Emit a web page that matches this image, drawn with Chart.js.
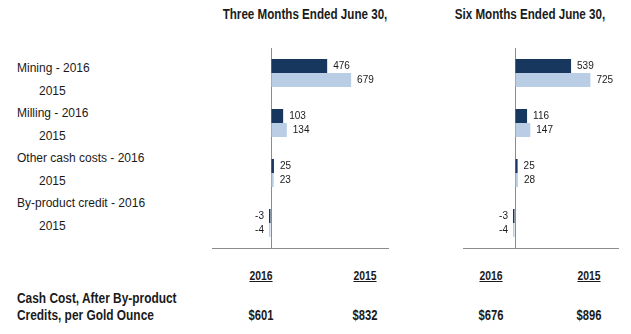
<!DOCTYPE html>
<html>
<head>
<meta charset="utf-8">
<script src="https://cdn.jsdelivr.net/npm/chart.js@4.4.0/dist/chart.umd.min.js"></script>
<style>
  body { margin: 0; background: #fff; }
  #page { position: relative; width: 631px; height: 334px; overflow: hidden; font-family: "Liberation Sans", Arial, sans-serif; color: #1a1a1a; }
  .nar { font-family: "Liberation Sans Narrow", "Arial Narrow", "Liberation Sans", sans-serif; font-weight: bold; }
  .abs { position: absolute; white-space: nowrap; }
  .title { font-size: 14px; top: 6px; transform: translateX(-50%) scaleX(0.83); }
  .cat { font-size: 12px; left: 0; }
  .hdr { font-size: 13px; top: 268px; text-decoration: underline; transform: translateX(-50%) scaleX(0.8); }
  .val { font-size: 14px; top: 307px; transform: translateX(-50%) scaleX(0.8); }
  .cash { font-size: 14px; line-height: 17px; left: 17px; top: 290px; transform-origin: 0 0; transform: scaleX(0.85); }
  canvas { position: absolute; }
</style>
</head>
<body>
<div id="page">
  <div class="abs title nar" id="t1" style="left:305px"></div>
  <div class="abs title nar" id="t2" style="left:530px"></div>
  <div id="cats"></div>
  <canvas id="qtr" style="left:212px; top:48px; width:177px; height:201px"></canvas>
  <canvas id="ytd" style="left:463px; top:48px; width:156px; height:201px"></canvas>
  <div id="bottom"></div>
  <div class="abs nar cash">Cash Cost, After By-product<br>Credits, per Gold Ounce</div>
</div>
<script>
const titles = ["Three Months Ended June 30,", "Six Months Ended June 30,"]
const categories = ["Mining", "Milling", "Other cash costs", "By-product credit"]
const years = ["2016", "2015"]
const qtr2016 = [476, 103, 25, -3]
const qtr2015 = [679, 134, 23, -4]
const ytd2016 = [539, 116, 25, -3]
const ytd2015 = [725, 147, 28, -4]
const cashCost = ["$601", "$832", "$676", "$896"]

document.getElementById("t1").innerText = titles[0]
document.getElementById("t2").innerText = titles[1]

// left-hand row labels
let catHtml = ""
categories.forEach(function (c, i) {
  catHtml += '<div class="abs cat" style="left:17px; top:' + (61 + i * 45) + 'px">' + c + ' - ' + years[0] + '</div>'
  catHtml += '<div class="abs cat" style="left:39px; top:' + (84 + i * 45) + 'px">' + years[1] + '</div>'
})
document.getElementById("cats").innerHTML = catHtml

// column headers and cash cost row
const colX = [261, 365, 491, 589]
let botHtml = ""
colX.forEach(function (x, i) {
  botHtml += '<div class="abs hdr nar" style="left:' + x + 'px">' + years[i % 2] + '</div>'
  botHtml += '<div class="abs val nar" style="left:' + x + 'px">' + cashCost[i] + '</div>'
})
document.getElementById("bottom").innerHTML = botHtml

const valueLabels = {
  id: "valueLabels",
  afterDatasetsDraw(chart) {
    const ctx = chart.ctx
    ctx.save()
    ctx.font = "10px 'Liberation Sans', Arial, sans-serif"
    ctx.fillStyle = "#1a1a1a"
    ctx.textBaseline = "middle"
    chart.data.datasets.forEach(function (ds, di) {
      chart.getDatasetMeta(di).data.forEach(function (bar, i) {
        const v = ds.data[i]
        if (v < 0) {
          ctx.textAlign = "right"
          ctx.fillText(v, chart.scales.x.getPixelForValue(0) - 7, bar.y)
        } else {
          ctx.textAlign = "left"
          ctx.fillText(v, bar.x + 6, bar.y)
        }
      })
    })
    ctx.restore()
  }
}

function makeChart(id, d2016, d2015) {
  return new Chart(document.getElementById(id), {
    type: "bar",
    data: {
      labels: categories,
      datasets: [
        { label: years[0], data: d2016, backgroundColor: "#17375e", minBarLength: 2 },
        { label: years[1], data: d2015, backgroundColor: "#b9cde5", minBarLength: 2 }
      ]
    },
    options: {
      indexAxis: "y",
      responsive: false,
      animation: false,
      devicePixelRatio: 1,
      categoryPercentage: 0.56,
      barPercentage: 1,
      layout: { padding: { top: 0, bottom: 1, left: 0, right: 0 } },
      plugins: { legend: { display: false }, tooltip: { enabled: false } },
      scales: {
        x: {
          min: -500,
          max: 1000,
          ticks: { display: false, stepSize: 500 },
          grid: {
            drawTicks: false,
            color: function (c) { return c.tick && c.tick.value === 0 ? "#8c8c8c" : "rgba(0,0,0,0)" }
          },
          border: { display: true, color: "#8c8c8c" }
        },
        y: { display: false }
      }
    },
    plugins: [valueLabels]
  })
}

makeChart("qtr", qtr2016, qtr2015)
makeChart("ytd", ytd2016, ytd2015)
</script>
</body>
</html>
